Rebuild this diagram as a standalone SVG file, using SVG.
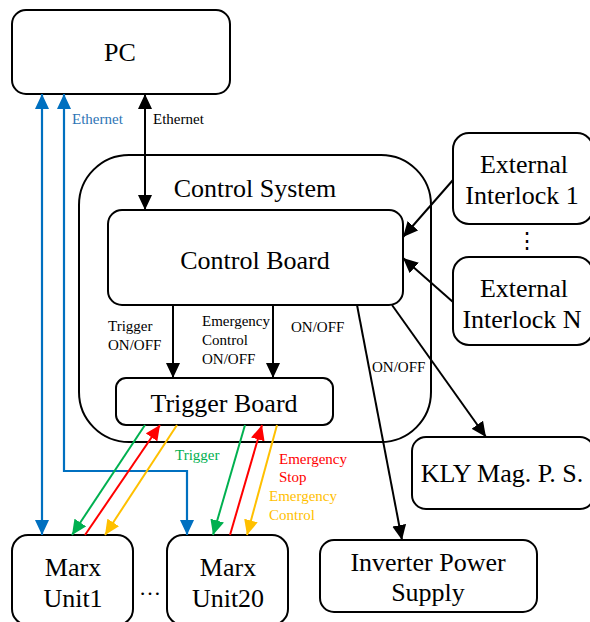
<svg xmlns="http://www.w3.org/2000/svg" width="590" height="622" viewBox="0 0 590 622">
<style>
.box{fill:#fff;stroke:#000;stroke-width:2}
text{font-family:"Liberation Serif","Times New Roman",Times,serif}
.big{font-size:26px;fill:#000;text-anchor:middle}
.sm{font-size:15px;fill:#000}
.k{stroke:#000;stroke-width:2;fill:none}
.b{stroke:#0070C0;stroke-width:2.2;fill:none}
.g{stroke:#00B050;stroke-width:2;fill:none}
.r{stroke:#FF0000;stroke-width:2;fill:none}
.o{stroke:#FFC000;stroke-width:2;fill:none}
</style>
<defs>
<marker id="ak" markerUnits="userSpaceOnUse" markerWidth="15" markerHeight="14" refX="15" refY="7" orient="auto-start-reverse"><path d="M0,0L15,7L0,14z" fill="#000"/></marker>
<marker id="ab" markerUnits="userSpaceOnUse" markerWidth="15" markerHeight="14" refX="15" refY="7" orient="auto-start-reverse"><path d="M0,0L15,7L0,14z" fill="#0070C0"/></marker>
<marker id="ag" markerUnits="userSpaceOnUse" markerWidth="15" markerHeight="14" refX="15" refY="7" orient="auto"><path d="M0,0L15,7L0,14z" fill="#00B050"/></marker>
<marker id="ar" markerUnits="userSpaceOnUse" markerWidth="15" markerHeight="14" refX="15" refY="7" orient="auto"><path d="M0,0L15,7L0,14z" fill="#FF0000"/></marker>
<marker id="ao" markerUnits="userSpaceOnUse" markerWidth="15" markerHeight="14" refX="15" refY="7" orient="auto"><path d="M0,0L15,7L0,14z" fill="#FFC000"/></marker>
</defs>
<g id="control-system">
<rect class="box" x="79" y="155" width="352" height="287" rx="50"/>
<text class="big" x="255" y="197">Control System</text>
</g>
<g id="pc"><rect class="box" x="12" y="10" width="218" height="84" rx="14"/><text class="big" x="120" y="61">PC</text></g>
<g id="control-board"><rect class="box" x="108" y="210" width="295" height="95" rx="14"/><text class="big" x="255" y="269">Control Board</text></g>
<g id="trigger-board"><rect class="box" x="116" y="378" width="217" height="47" rx="10"/><text class="big" x="224" y="412">Trigger Board</text></g>
<g id="ext1"><rect class="box" x="453" y="133" width="140" height="91" rx="16"/><text class="big" x="524" y="173">External</text><text class="big" x="522" y="204">Interlock 1</text></g>
<g id="extN"><rect class="box" x="453" y="257" width="140" height="88" rx="16"/><text class="big" x="524" y="297">External</text><text class="big" x="522" y="328">Interlock N</text></g>
<text class="big" x="527" y="248" style="font-size:22px">⋮</text>
<g id="kly"><rect class="box" x="412" y="437" width="182" height="72" rx="14"/><text class="big" x="502" y="482">KLY Mag. P. S.</text></g>
<g id="inverter"><rect class="box" x="320" y="540" width="217" height="72" rx="14"/><text class="big" x="428" y="571">Inverter Power</text><text class="big" x="428" y="601">Supply</text></g>
<g id="marx1"><rect class="box" x="12" y="535" width="121" height="90" rx="16"/><text class="big" x="73" y="576">Marx</text><text class="big" x="73" y="607">Unit1</text></g>
<g id="marx20"><rect class="box" x="167" y="535" width="121" height="90" rx="16"/><text class="big" x="228" y="576">Marx</text><text class="big" x="228" y="607">Unit20</text></g>
<text class="big" x="150" y="595" style="font-size:22px">…</text>
<g id="connectors">
<line class="b" x1="42" y1="535" x2="42" y2="94" marker-start="url(#ab)" marker-end="url(#ab)"/>
<polyline class="b" points="64,94 64,471 187,471 187,535" marker-start="url(#ab)" marker-end="url(#ab)"/>
<line class="k" x1="145" y1="94" x2="145" y2="210" marker-start="url(#ak)" marker-end="url(#ak)"/>
<line class="k" x1="173" y1="305" x2="173" y2="378" marker-end="url(#ak)"/>
<line class="k" x1="273" y1="305" x2="273" y2="378" marker-end="url(#ak)"/>
<line class="k" x1="357" y1="305" x2="402" y2="540" marker-end="url(#ak)"/>
<line class="k" x1="392" y1="305" x2="486" y2="437" marker-end="url(#ak)"/>
<line class="k" x1="453" y1="180" x2="403" y2="237" marker-end="url(#ak)"/>
<line class="k" x1="453" y1="302" x2="403" y2="258" marker-end="url(#ak)"/>
<line class="g" x1="145" y1="425" x2="72" y2="535" marker-end="url(#ag)"/>
<line class="r" x1="85" y1="535" x2="160" y2="425" marker-end="url(#ar)"/>
<line class="o" x1="177" y1="425" x2="105" y2="535" marker-end="url(#ao)"/>
<line class="g" x1="245" y1="425" x2="213" y2="535" marker-end="url(#ag)"/>
<line class="r" x1="230" y1="535" x2="262" y2="425" marker-end="url(#ar)"/>
<line class="o" x1="277" y1="425" x2="247" y2="535" marker-end="url(#ao)"/>
</g>
<g id="labels">
<text class="sm" x="72" y="124" style="fill:#2E74B5">Ethernet</text>
<text class="sm" x="153" y="124">Ethernet</text>
<text class="sm" x="108" y="331">Trigger</text>
<text class="sm" x="108" y="350">ON/OFF</text>
<text class="sm" x="202" y="326">Emergency</text>
<text class="sm" x="202" y="345">Control</text>
<text class="sm" x="202" y="364">ON/OFF</text>
<text class="sm" x="291" y="332">ON/OFF</text>
<text class="sm" x="372" y="372">ON/OFF</text>
<text class="sm" x="175" y="460" style="fill:#00B050">Trigger</text>
<text class="sm" x="279" y="464" style="fill:#FF0000">Emergency</text>
<text class="sm" x="279" y="482" style="fill:#FF0000">Stop</text>
<text class="sm" x="269" y="501" style="fill:#FFC000">Emergency</text>
<text class="sm" x="269" y="520" style="fill:#FFC000">Control</text>
</g>
</svg>
